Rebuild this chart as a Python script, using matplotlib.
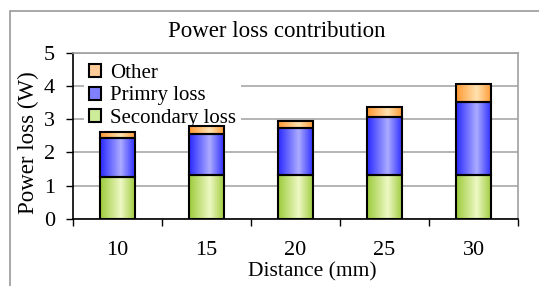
import numpy as np
import matplotlib
matplotlib.use("Agg")
import matplotlib.pyplot as plt
from matplotlib.patches import Patch, Rectangle
from matplotlib.colors import LinearSegmentedColormap

plt.rcParams['font.family'] = ['Liberation Serif', 'DejaVu Serif']

# data
distances = ["10", "15", "20", "25", "30"]
secondary_loss = [1.27, 1.32, 1.32, 1.32, 1.32]
primary_loss = [1.16, 1.23, 1.41, 1.74, 2.21]
other_loss = [0.18, 0.24, 0.23, 0.32, 0.54]
series_names = ["Secondary loss", "Primry loss", "Other"]

# (edge colour, centre colour, legend colour)
styles = {
    "Secondary loss": ("#9ccb3a", "#eef8c4", "#cdec9a"),
    "Primry loss": ("#2a2aff", "#acacff", "#8080ff"),
    "Other": ("#ff9933", "#ffe2b0", "#ffcc99"),
}


def gradient_fill(ax, bars, edge, centre):
    cmap = LinearSegmentedColormap.from_list("g", [edge, centre, edge])
    # lightest a bit right of centre, like the original
    t = np.linspace(0, 1, 64)
    prof = np.where(t < 0.58, t / 0.58 * 0.5, 0.5 + (t - 0.58) / 0.42 * 0.5)
    img = prof[np.newaxis, :]
    for b in bars:
        x0, y0 = b.get_x(), b.get_y()
        ax.imshow(img, cmap=cmap, vmin=0, vmax=1, aspect="auto",
                  extent=(x0, x0 + b.get_width(), y0, y0 + b.get_height()),
                  zorder=2.6, interpolation="bilinear")


fig = plt.figure(figsize=(5.39, 2.86), dpi=100)
ax = fig.add_axes([73 / 539, 1 - 219 / 286, 445 / 539, 166.3 / 286])

# outer chart frame
fig.add_artist(Rectangle((10 / 539, -0.2), 2, 1 - 11 / 286 + 0.2,
                         transform=fig.transFigure, fill=False,
                         ec="#9a9a9a", lw=1.2, zorder=0))

x = np.arange(len(distances))
width = 0.40
bottom = np.zeros(len(x))
for name, vals in zip(series_names, [secondary_loss, primary_loss, other_loss]):
    bars = ax.bar(x, vals, width, bottom=bottom, facecolor="none",
                  edgecolor="black", linewidth=1.5, zorder=3)
    gradient_fill(ax, bars, styles[name][0], styles[name][1])
    bottom = bottom + np.array(vals)

ax.set_xlim(-0.5, len(x) - 0.5)
ax.set_ylim(0, 5)
ax.set_yticks(range(0, 6))
ax.set_xticks(x)
ax.set_xticklabels(distances)
ax.set_xticks(np.arange(-0.5, len(x)), minor=True)
ax.tick_params(axis="x", which="major", length=0, pad=15.5, labelsize=16)
ax.tick_params(axis="x", which="minor", length=5, width=1, direction="out")
ax.tick_params(axis="y", length=5, width=1, pad=8, labelsize=16)

ax.yaxis.grid(True, color="#a8a8a8", linewidth=1.2, zorder=1)
ax.set_axisbelow(True)
for s in ["top", "right"]:
    ax.spines[s].set_color("#a0a0a0")
    ax.spines[s].set_linewidth(1.2)
for s in ["left", "bottom"]:
    ax.spines[s].set_color("black")
    ax.spines[s].set_linewidth(1.2)

handles = [Patch(facecolor=styles[n][2], edgecolor="black", linewidth=1.5, label=n)
           for n in series_names[::-1]]
leg = ax.legend(handles=handles, loc="upper left", bbox_to_anchor=(0.01, 1.0),
                fontsize=15, frameon=True, framealpha=1, facecolor="white",
                edgecolor="none", fancybox=False, borderpad=0.25,
                borderaxespad=0.3, handlelength=0.6, handleheight=0.6,
                handletextpad=0.4, labelspacing=0.16)
leg.set_zorder(2.5)

fig.text(276.5 / 539, 1 - 37.3 / 286, "Power loss contribution", fontsize=16.5,
         ha="center", va="baseline")
fig.text(28 / 539, 1 - 142.5 / 286, "Power loss (W)", fontsize=16.5,
         ha="center", va="center", rotation=90)
fig.text(312 / 539, 1 - 276.7 / 286, "Distance (mm)", fontsize=15.5,
         ha="center", va="baseline")

fig.savefig("out.png", dpi=100)
